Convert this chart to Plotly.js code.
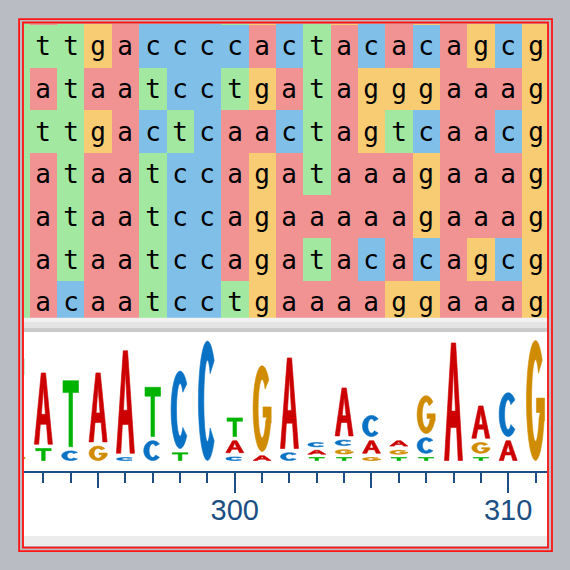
<!DOCTYPE html>
<html>
<head>
<meta charset="utf-8">
<script src="https://cdn.plot.ly/plotly-3.0.1.min.js"></script>
<style>
  html, body { margin: 0; padding: 0; background: #b9bdc3; }
  #chart { width: 570px; height: 570px; }
</style>
</head>
<body>
<div id="chart"></div>
<script>
// alignment columns (sequence positions)
var positions = [292, 293, 294, 295, 296, 297, 298, 299, 300, 301,
                 302, 303, 304, 305, 306, 307, 308, 309, 310, 311];

// aligned sequences, one string per row, first char = position 292
var sequences = [
    "tatgaccctgctgcagagcg",
    "tttgaccccactacacagcg",
    "tataatcctgatagggaaag",
    "tttgactcaactagtcaacg",
    "tataatccagataaagaaag",
    "tataatccagaaaaagaaag",
    "tataatccagatacacagcg",
    "tacaatcctgaaaaggaaag"
];

// sequence logo heights (bits) per position
var logoA = [0, 1.26, 0, 1.22, 1.78, 0, 0, 0, 0.27, 0.08, 1.58, 0.12, 0.87, 0.28, 0.16, 0, 1.96, 0.61, 0.33, 0];
var logoC = [0, 0, 0.16, 0, 0.05, 0.33, 1.36, 1.99, 0.06, 0, 0.13, 0.13, 0.16, 0.42, 0, 0.33, 0, 0, 0.80, 0];
var logoG = [0.10, 0, 0, 0.24, 0, 0, 0, 0, 0, 1.50, 0, 0, 0.13, 0.05, 0.12, 0.70, 0, 0.25, 0, 2.00];
var logoT = [1.60, 0.20, 1.17, 0, 0, 0.89, 0.13, 0, 0.38, 0, 0, 0.05, 0.05, 0, 0.05, 0.05, 0, 0.05, 0, 0];

var tickMajor = [290, 300, 310];
var tickMid = [290, 295, 300, 305, 310];

// colours
var cellColors = {a: "#f29393", c: "#7fbfe8", g: "#f8cc72", t: "#a2e8a0"};
var logoColors = {A: "#cc0000", C: "#0a72c4", G: "#d08c00", T: "#00b300"};
var axisColor = "#1d4f82";

// ---- page geometry (pixels) ----
var W = 570, H = 570;
var ml = 23.5, mr = 23.3, mt = 24, mb = 24;
var plotW = W - ml - mr, plotH = H - mt - mb;
function px(x) { return (x - ml) / plotW; }
function py(y) { return (H - mb - y) / plotH; }

var xRange = [292.29, 311.42];

// ---- alignment heatmap ----
var codes = {a: 0, c: 1, g: 2, t: 3};
var z = [], txt = [], rows = [];
for (var r = 0; r < sequences.length; r++) {
    var zr = [], tr = [];
    for (var c = 0; c < sequences[r].length; c++) {
        var ch = sequences[r][c];
        zr.push(codes[ch]);
        tr.push(ch);
    }
    z.push(zr);
    txt.push(tr);
    rows.push(r);
}

var heat = {
    type: "heatmap",
    x: positions,
    y: rows,
    z: z,
    text: txt,
    texttemplate: "%{text}",
    textfont: {family: "DejaVu Sans Mono", size: 26, color: "#000000"},
    zmin: 0, zmax: 3,
    colorscale: [
        [0, cellColors.a], [0.1667, cellColors.a],
        [0.1667, cellColors.c], [0.5, cellColors.c],
        [0.5, cellColors.g], [0.8333, cellColors.g],
        [0.8333, cellColors.t], [1, cellColors.t]
    ],
    showscale: false,
    hoverinfo: "skip",
    xaxis: "x", yaxis: "y"
};

// ---- glyph outlines in a unit box ----
function arc(cx, cy, rx, ry, a0, a1, n) {
    var pts = [];
    for (var i = 0; i <= n; i++) {
        var a = (a0 + (a1 - a0) * i / n) * Math.PI / 180;
        pts.push([cx + rx * Math.cos(a), cy + ry * Math.sin(a)]);
    }
    return pts;
}

var glyphs = {};
glyphs.A = [[0, 0], [0.24, 0], [0.33, 0.28], [0.39, 0.42], [0.5, 0.8], [0.61, 0.42], [0.39, 0.42],
            [0.33, 0.28], [0.67, 0.28], [0.76, 0], [1, 0], [0.62, 1], [0.38, 1], [0, 0]];
glyphs.T = [[0.07, 1], [0.93, 1], [0.93, 0.82], [0.6, 0.82], [0.6, 0], [0.4, 0], [0.4, 0.82], [0.07, 0.82], [0.07, 1]];
glyphs.C = arc(0.5, 0.5, 0.5, 0.5, 42, 318, 40).concat(arc(0.5, 0.5, 0.2, 0.34, 318, 42, 40));
glyphs.C.push(glyphs.C[0]);
glyphs.G = arc(0.5, 0.5, 0.5, 0.5, 42, 340, 40)
    .concat([[1, 0.33], [1, 0.52], [0.55, 0.52], [0.55, 0.4], [0.76, 0.4]])
    .concat(arc(0.5, 0.5, 0.22, 0.34, -25, -318, 40));
glyphs.G.push(glyphs.G[0]);

// ---- logo traces ----
var letterW = 0.66;
var pad = 0.07;
var logoTraces = {};
["A", "C", "G", "T"].forEach(function(L) {
    logoTraces[L] = {
        type: "scatter", mode: "lines", fill: "toself",
        fillcolor: logoColors[L],
        x: [], y: [],
        line: {width: 0.6, color: logoColors[L], simplify: false},
        connectgaps: false,
        hoverinfo: "skip",
        xaxis: "x2", yaxis: "y2",
        showlegend: false
    };
});

for (var i = 0; i < positions.length; i++) {
    var stack = [["A", logoA[i]], ["C", logoC[i]], ["G", logoG[i]], ["T", logoT[i]]]
        .filter(function(d) { return d[1] > 0; })
        .sort(function(a, b) { return a[1] - b[1]; });
    var y0 = 0;
    for (var k = 0; k < stack.length; k++) {
        var L = stack[k][0], h = stack[k][1];
        var gap = k === 0 ? 0 : Math.min(pad, 0.45 * h);
        var yLow = y0 + gap, yHigh = y0 + h;
        var tr = logoTraces[L];
        glyphs[L].forEach(function(p) {
            tr.x.push(positions[i] + (p[0] - 0.5) * letterW);
            tr.y.push(yLow + p[1] * (yHigh - yLow));
        });
        tr.x.push(null);
        tr.y.push(null);
        y0 += h;
    }
}

// carrier for the overlaying axis with the long ticks
var majorTickTrace = {
    type: "scatter", mode: "none", x: tickMajor, y: tickMajor.map(function() { return null; }),
    xaxis: "x3", yaxis: "y2", hoverinfo: "skip", showlegend: false
};

var data = [heat, logoTraces.A, logoTraces.C, logoTraces.G, logoTraces.T, majorTickTrace];

// ---- decoration shapes ----
function rectPx(x0, y0, x1, y1, fill, layer) {
    return {type: "rect", xref: "paper", yref: "paper",
            x0: px(x0), x1: px(x1), y0: py(y0), y1: py(y1),
            fillcolor: fill, line: {width: 0}, layer: layer || "below"};
}
function framePx(x0, y0, x1, y1) {
    return {type: "rect", xref: "paper", yref: "paper",
            x0: px(x0), x1: px(x1), y0: py(y0), y1: py(y1),
            fillcolor: "rgba(0,0,0,0)", line: {color: "#ff1414", width: 1.8}, layer: "above"};
}

var shapes = [
    rectPx(23.5, 317.7, 546.7, 322, "#f2f2f2"),
    rectPx(23.5, 322, 546.7, 328.5, "#e4e4e4"),
    rectPx(23.5, 328.5, 546.7, 332, "#cacaca"),
    rectPx(23.5, 536, 546.7, 546, "#ececec", "above"),
    framePx(18.6, 19.1, 551.7, 551.2),
    framePx(22.5, 22.5, 547.7, 547.7)
];

var axisLineY = py(471.7);

var layout = {
    width: W, height: H,
    margin: {l: ml, r: mr, t: mt, b: mb, pad: 0},
    paper_bgcolor: "#b9bdc3",
    plot_bgcolor: "#ffffff",
    showlegend: false,
    xaxis: {domain: [0, 1], range: xRange, visible: false, anchor: "y", fixedrange: true},
    yaxis: {domain: [py(317.7), 1], range: [7.36, 0.4766], visible: false, anchor: "x", fixedrange: true},
    xaxis2: {
        domain: [0, 1], range: xRange, anchor: "free", position: axisLineY,
        showline: true, linecolor: axisColor, linewidth: 2,
        showgrid: false, zeroline: false,
        tickmode: "array", tickvals: tickMid,
        ticktext: tickMid.map(function(v) { return v % 10 === 0 ? String(v) : ""; }),
        tickfont: {family: "Liberation Sans Narrow, Liberation Sans, sans-serif", size: 29, color: axisColor},
        ticklabelstandoff: -3,
        ticks: "outside", ticklen: 15, tickwidth: 2, tickcolor: axisColor,
        minor: {dtick: 1, tick0: 0, ticks: "outside", ticklen: 10, tickwidth: 2, tickcolor: axisColor, showgrid: false},
        fixedrange: true
    },
    xaxis3: {
        overlaying: "x2", range: xRange, anchor: "free", position: axisLineY,
        showline: false, showgrid: false, zeroline: false,
        tickmode: "array", tickvals: tickMajor, showticklabels: false,
        ticks: "outside", ticklen: 20, tickwidth: 2, tickcolor: axisColor,
        fixedrange: true
    },
    yaxis2: {domain: [0, py(332)], range: [-1.425, 2.142], visible: false, anchor: "x2", fixedrange: true},
    shapes: shapes
};

Plotly.newPlot("chart", data, layout, {displayModeBar: false, staticPlot: true});
</script>
</body>
</html>
